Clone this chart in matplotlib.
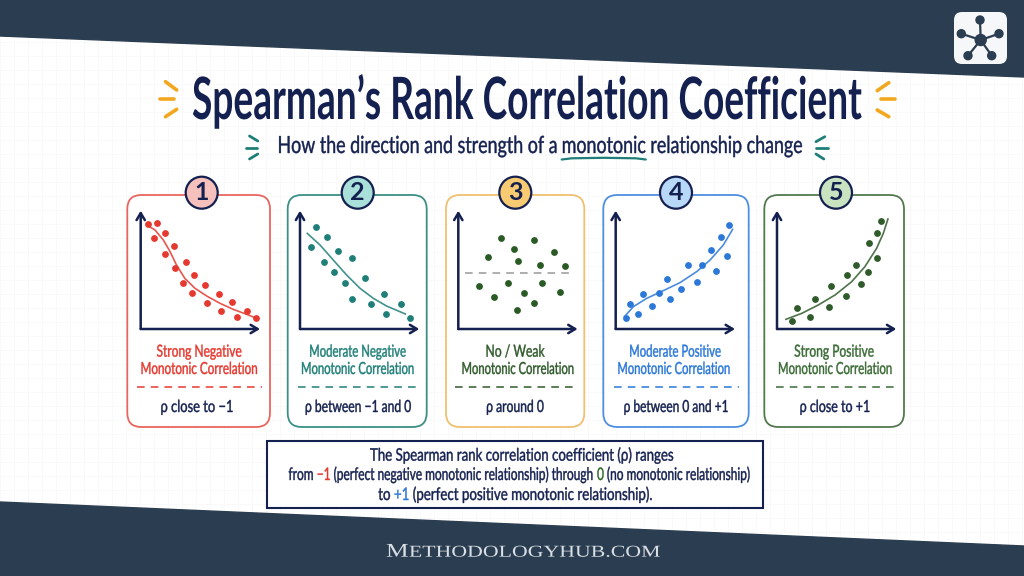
#! /usr/bin/env python3

import matplotlib
matplotlib.use("Agg")
import matplotlib.pyplot as plt
from matplotlib.patches import Circle, FancyBboxPatch, Polygon
from matplotlib.patheffects import AbstractPathEffect
from matplotlib.transforms import Affine2D

# panel data (both axes run 0-100)
x1 = [5.9, 14, 11.5, 20.7, 20.7, 27.9, 28.5, 37.7, 35.8, 44.4, 43, 53.9, 55.3, 65.4, 67.3, 76.3, 80.7, 89.1, 96.6]
y1 = [89, 89.3, 77.2, 81.4, 63.7, 70.1, 51.5, 56.9, 39.2, 45.4, 30.7, 37.2, 21.7, 29.6, 14.9, 22.8, 10.1, 14.9, 9.3]
curve_x1 = [5, 12, 19, 24.6, 30, 37, 45.5, 55.3, 66.5, 77.6, 88.8, 96.6]
curve_y1 = [87.9, 83.7, 75.2, 65.4, 54.1, 42.8, 34.4, 27.9, 21.7, 16.6, 12.4, 9.3]

x2 = [13.4, 22.3, 9.2, 31.6, 19.8, 43.6, 28.8, 54.7, 37.4, 43.9, 70.7, 59.2, 84.9, 72.3, 91.9]
y2 = [86.2, 78, 69.6, 65.9, 56.6, 59.7, 48.2, 43.1, 38.6, 25.4, 29.9, 21.1, 21.4, 13, 9.3]
curve_x2 = [6.1, 16.8, 27.9, 39.1, 50.3, 61.5, 72.6, 88.3]
curve_y2 = [80.8, 71, 58.3, 45.6, 34.4, 25.9, 19.4, 12.7]

x3 = [35.8, 63.7, 46.9, 80.4, 24.9, 49.7, 68.4, 89.4, 17, 41.9, 70.1, 55.3, 85.2, 29.6, 63.4, 49.4]
y3 = [76.9, 75.2, 67.6, 65.1, 61.1, 57.5, 54.1, 53.5, 36.6, 38.6, 38.6, 30.4, 31.3, 27, 22.3, 15.8]
curve_x3 = [5.6, 97.8]
curve_y3 = [47, 47]

x4 = [8.4, 12, 18.7, 22.9, 30.7, 36.3, 42.7, 45.3, 55, 60.3, 68.2, 72.3, 79.9, 83.8, 88.5, 93.6, 95.3]
y4 = [9, 21.4, 12.7, 29.9, 19.7, 30.7, 42, 25.4, 33.5, 54.1, 40, 54.1, 66.8, 48.7, 78, 61.7, 88.2]
curve_x4 = [7.3, 14.8, 26, 39.9, 53.9, 67.9, 79.1, 90.2, 98]
curve_y4 = [10.4, 18.9, 25.9, 32.4, 39.2, 48.5, 58.3, 71, 84.2]

x5 = [12.8, 16.5, 27.7, 31.6, 43.6, 45.3, 58.1, 58.4, 66.2, 70.1, 76.5, 76.8, 84.1, 84.1, 86.9]
y5 = [7, 17.7, 10.4, 25.6, 18.6, 36.6, 28.2, 45.9, 54.1, 38.3, 48.2, 72.7, 60, 81.1, 91.3]
curve_x5 = [7.5, 20.7, 34.6, 48.6, 62.6, 73.7, 83.5, 89.1, 93]
curve_y5 = [8.2, 13.2, 20.3, 28.7, 40, 52.7, 68.2, 80.8, 93]

line1 = ["Strong Negative", "Moderate Negative", "No / Weak", "Moderate Positive", "Strong Positive"]
line2 = "Monotonic Correlation"
rho_labels = ["ρ close to −1", "ρ between −1 and 0", "ρ around 0", "ρ between 0 and +1", "ρ close to +1"]

NAVY = "#14204f"
BAND = "#2b3d50"
ORANGE = "#f2a71e"
TEAL = "#1f7f78"
RED = "#e5392f"
BLUE = "#2b78d8"
GREEN = "#2f6a26"
HAND = ["Lato", "DejaVu Sans"]


class Squeeze(AbstractPathEffect):
    # the reference font is much narrower than anything installed, so scale around a centre
    # and thicken the stems a little
    def __init__(self, sx, cx, sy=1, cy=0, grow=0.3):
        super().__init__()
        self.sx = sx
        self.cx = cx
        self.sy = sy
        self.cy = cy
        self.grow = grow

    def draw_path(self, renderer, gc, tpath, affine, rgbFace=None):
        t = affine + Affine2D().translate(-self.cx, -self.cy).scale(self.sx, self.sy).translate(self.cx, self.cy)
        gc0 = renderer.new_gc()
        gc0.copy_properties(gc)
        gc0.set_linewidth(self.grow)
        gc0.set_foreground(rgbFace)
        renderer.draw_path(gc0, tpath, t, rgbFace)
        gc0.restore()


fig = plt.figure(figsize=(10.24, 5.76), dpi=100)
bg = fig.add_axes([0, 0, 1, 1])
bg.set_xlim(0, 1024)
bg.set_ylim(576, 0)
bg.axis("off")

# faint paper grid
for gx in range(0, 1024, 14):
    bg.plot([gx, gx], [0, 576], color="#f8f9fa", lw=0.6, zorder=0)
for gy in range(0, 576, 14):
    bg.plot([0, 1024], [gy, gy], color="#f8f9fa", lw=0.6, zorder=0)

bg.add_patch(Polygon([(0, 0), (1024, 0), (1024, 77), (0, 36)], color=BAND, zorder=1))
bg.add_patch(Polygon([(0, 502), (1024, 546), (1024, 576), (0, 576)], color=BAND, zorder=1))


def pieces(y, parts, cx, width, size, family=HAND, sy=1, grow=0.3, **kw):
    # row of differently coloured strings, centred on cx and fitted to width
    r = fig.canvas.get_renderer()
    items = []
    for p in parts:
        s, c = p[0], p[1]
        fs = p[2] if len(p) > 2 else size
        items.append(bg.text(0, y, s, color=c, fontsize=fs, va="baseline", ha="left", family=family, zorder=7, **kw))
    widths = [t.get_window_extent(r).width for t in items]
    total = sum(widths)
    sx = width / total
    pos = cx - total / 2
    spans = []
    for t, w in zip(items, widths):
        t.set_x(pos)
        t.set_path_effects([Squeeze(sx, cx, sy, 576 - y, grow)])
        spans.append((cx + (pos - cx) * sx, cx + (pos + w - cx) * sx))
        pos += w
    return spans


def strokes(segs, color, lw):
    for (xa, ya, xb, yb) in segs:
        bg.plot([xa, xb], [ya, yb], color=color, lw=lw, solid_capstyle="round", zorder=3)


# title block
pieces(119, [("Spearman’s Rank Correlation Coefficient", NAVY)], 527.5, 671, 34, sy=42 / 34, grow=0, fontweight="bold")
strokes([(165.5, 81.7, 176.7, 90), (159.7, 98.7, 174.3, 98.7), (165.5, 116.7, 176.7, 109.3)], ORANGE, 2.6)
strokes([(888.8, 82.7, 877.2, 90.7), (880.6, 99, 895.1, 99), (877.2, 110, 888.8, 116.7)], ORANGE, 2.6)
spans = pieces(153, [("How the direction and strength of a ", NAVY), ("monotonic", NAVY),
                     (" relationship change", NAVY)], 540, 525, 17)
ux0, ux1 = spans[1]
bg.plot([ux0, ux0 + 10, (ux0 + ux1) / 2, ux1 - 10, ux1], [159.5, 158.3, 157.8, 158.3, 159.5], color=TEAL, lw=1.6,
        solid_capstyle="round", zorder=3)
strokes([(249.5, 136, 257.8, 141), (245.6, 147.7, 256.8, 147.7), (249.5, 159, 257.8, 154)], TEAL, 2)
strokes([(824.8, 136.7, 816, 141.7), (816, 147.7, 828.2, 147.7), (816, 154, 823.8, 159)], TEAL, 2)

# icon top right
bg.add_patch(FancyBboxPatch((960, 18), 41, 40, boxstyle="round,pad=6,rounding_size=8", fc="#f6f7f8", ec="none", zorder=3))
hub = (980.7, 40)
for nx, ny in [(980, 20), (961.3, 33.7), (999, 33.7), (968, 55.7), (991.7, 55.7)]:
    bg.plot([hub[0], nx], [hub[1], ny], color=BAND, lw=1.6, zorder=4)
    bg.add_patch(Circle((nx, ny), 4, color=BAND, zorder=5))
bg.add_patch(Circle(hub, 5.5, color=BAND, zorder=5))

# one card per correlation type: box, axes origin, badge, dash ends, text centres and widths
cards = [
    dict(box=(127.3, 270), ox=140.7, badge=201.7, dash=(137.3, 261.7), tcol=RED, border="#e8665f", fill="#f6c1bd",
         dot=RED, line=RED, xs=x1, ys=y1, cx=curve_x1, cy=curve_y1,
         t1=(199, 85), t2=(199, 117), rho=(197, 73)),
    dict(box=(287.7, 426.7), ox=300, badge=357.7, dash=(297.7, 417.7), tcol=TEAL, border="#3c8f85", fill="#a9e0d9",
         dot=TEAL, line=TEAL, xs=x2, ys=y2, cx=curve_x2, cy=curve_y2,
         t1=(357.5, 96.7), t2=(357.5, 113), rho=(358, 106)),
    dict(box=(446, 584.3), ox=458.3, badge=515.3, dash=(455, 575), tcol="#2f5a2a", border="#f0c070", fill="#f8cb72",
         dot="#2a5a24", line="#999999", xs=x3, ys=y3, cx=curve_x3, cy=curve_y3,
         t1=(515, 59), t2=(517.7, 112.3), rho=(515, 57.7)),
    dict(box=(603.3, 748.7), ox=615.7, badge=676, dash=(614, 739), tcol=BLUE, border="#4f8fe0", fill="#b8d8f8",
         dot=BLUE, line=BLUE, xs=x4, ys=y4, cx=curve_x4, cy=curve_y4,
         t1=(675, 91.7), t2=(673.7, 112.7), rho=(676, 104.7)),
    dict(box=(764.3, 904), ox=777, badge=836, dash=(775.7, 895.7), tcol="#3a6b35", border="#52794c", fill="#c9e3c0",
         dot="#2f5a2a", line="#2f5a2a", xs=x5, ys=y5, cx=curve_x5, cy=curve_y5,
         t1=(834, 79.7), t2=(835, 114), rho=(835, 70.7)),
]

for i, c in enumerate(cards):
    left, right = c["box"]
    bg.add_patch(FancyBboxPatch((left + 12, 207), right - left - 24, 208, boxstyle="round,pad=12,rounding_size=14",
                                fc="white", ec=c["border"], lw=1.3, zorder=2))
    bg.add_patch(Circle((c["badge"], 192.7), 16, fc=c["fill"], ec=NAVY, lw=1.6, zorder=6))
    bg.text(c["badge"], 199.5, str(i + 1), color=NAVY, fontsize=18, ha="center", va="baseline", family=HAND,
            zorder=7, fontweight="bold")
    pieces(356.7, [(line1[i], c["tcol"])], c["t1"][0], c["t1"][1], 12)
    pieces(374, [(line2, c["tcol"])], c["t2"][0], c["t2"][1], 12)
    bg.plot(c["dash"], [387, 387], color=c["tcol"], lw=1.1, dashes=(5, 4), zorder=4)
    pieces(412, [(rho_labels[i], NAVY)], c["rho"][0], c["rho"][1], 12)

    ax = fig.add_axes([c["ox"] / 1024, 1 - 329 / 576, 119.3 / 1024, 118.3 / 576], zorder=5)
    ax.patch.set_alpha(0)
    ax.set_xlim(0, 100)
    ax.set_ylim(0, 100)
    ax.axis("off")
    if i == 2:
        ax.plot(c["cx"], c["cy"], color=c["line"], lw=1.1, dashes=(5, 4))
    else:
        ax.plot(c["cx"], c["cy"], color=c["line"], lw=1.2, alpha=0.85)
    ax.scatter(c["xs"], c["ys"], s=15, color=c["dot"], zorder=3, clip_on=False)
    for end in [(100, 0), (0, 100)]:
        ax.annotate("", xy=end, xytext=(0, 0), annotation_clip=False,
                    arrowprops=dict(arrowstyle="->,head_width=0.3,head_length=0.5", color=NAVY, lw=1.8,
                                    shrinkA=0, shrinkB=0))

# explanation box
bg.add_patch(Polygon([(267, 441), (763, 441), (763, 508), (267, 508)], fc="white", ec=NAVY, lw=1.5, zorder=2))
pieces(460.7, [("The Spearman rank correlation coefficient (ρ) ranges", NAVY)], 522.5, 305, 12.5)
pieces(480, [("from ", NAVY), ("−1", RED), (" (perfect negative monotonic relationship) through ", NAVY),
             ("0", GREEN), (" (no monotonic relationship)", NAVY)], 519.5, 462, 12.5)
pieces(500, [("to ", NAVY), ("+1", BLUE), (" (perfect positive monotonic relationship).", NAVY)], 515.7, 275, 12.5)

pieces(556.7, [("M", "#d9dfe4", 14), ("ETHODOLOGYHUB.COM", "#d9dfe4", 12)], 522.5, 273, 12,
       family="Liberation Serif", grow=0)

fig.savefig("out.png", dpi=100)
